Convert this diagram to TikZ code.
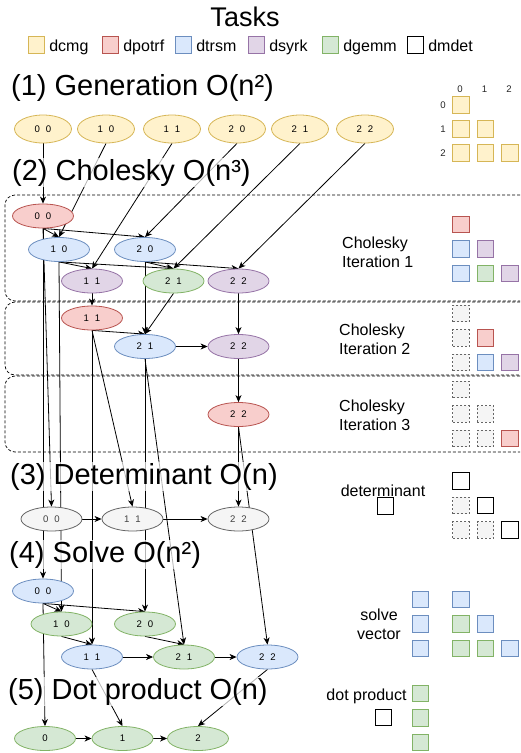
\documentclass[tikz,border=0pt]{standalone}
\usepackage{fontspec}
\setmainfont{Liberation Sans}
\usetikzlibrary{scopes,shapes.geometric,arrows.meta,backgrounds}

\definecolor{ylwF}{HTML}{FFF2CC}\definecolor{ylwD}{HTML}{D6B656}
\definecolor{redF}{HTML}{F8CECC}\definecolor{redD}{HTML}{B85450}
\definecolor{bluF}{HTML}{DAE8FC}\definecolor{bluD}{HTML}{6C8EBF}
\definecolor{purF}{HTML}{E1D5E7}\definecolor{purD}{HTML}{9673A6}
\definecolor{grnF}{HTML}{D5E8D4}\definecolor{grnD}{HTML}{82B366}
\definecolor{gryF}{HTML}{F5F5F5}\definecolor{gryD}{HTML}{666666}

\def\tijx#1#2{#1\hspace{6pt}#2}
\newcommand{\tij}[1]{\expandafter\tijx#1}

\begin{document}
\begin{tikzpicture}[x=1pt,y=-1pt,
    >={Stealth[length=7pt,width=6pt,inset=2pt]},
    task/.style={ellipse,draw,line width=0.8pt,minimum width=61pt,minimum height=24pt,inner sep=0pt,font=\fontsize{9.6}{9.6}\selectfont},
    wide/.style={minimum width=57pt,minimum height=28pt},
    tile/.style={rectangle,draw,line width=0.8pt,minimum size=16.5pt,inner sep=0pt},
    hole/.style={tile,dash pattern=on 2pt off 2pt,fill=gryF,draw=gryD},
    dcmg/.style={fill=ylwF,draw=ylwD},
    dpotrf/.style={fill=redF,draw=redD},
    dtrsm/.style={fill=bluF,draw=bluD},
    dsyrk/.style={fill=purF,draw=purD},
    dgemm/.style={fill=grnF,draw=grnD},
    dmdet/.style={fill=white,draw=black},
    faded/.style={fill=gryF,draw=gryD,text=black!75},
    dep/.style={->,line width=0.8pt},
    stage/.style={anchor=base west,font=\fontsize{29}{29}\selectfont,fill=white,fill opacity=0.7,text opacity=1,inner sep=1pt},
    note/.style={font=\fontsize{16}{19}\selectfont,inner sep=0pt},
    index/.style={font=\fontsize{9.6}{9.6}\selectfont,text=black!85},
    region/.style={draw,dash pattern=on 3pt off 2pt,rounded corners=10pt,line width=0.7pt},
]
\useasboundingbox (0,0) rectangle (520,753);

\node[font=\fontsize{27}{27}\selectfont,anchor=base] (tasks) at (245,26) {Tasks};
\foreach \s/\x in {dcmg/36.5,dpotrf/110.5,dtrsm/183.5,dsyrk/256.5,dgemm/330.5,dmdet/415.5} {
    \node[tile,\s] (key\s) at (\x,45) {};
    \node[note,anchor=base west] at ([xshift=4pt,yshift=-6pt]key\s.east) {\s};
}

\node[stage] (t1) at (10,95) {(1) Generation O(n²)};
\node[stage] (t2) at (11,180) {(2) Cholesky O(n³)};
\node[stage] (t3) at (9,484) {(3) Determinant O(n)};
\node[stage] (t4) at (8,562) {(4) Solve O(n²)};
\node[stage] (t5) at (7,699) {(5) Dot product O(n)};

\foreach \i/\j/\x in {0/0/43,1/0/106,1/1/172,2/0/237,2/1/300,2/2/365}
    \node[task,wide,dcmg] (g\i\j) at (\x,129) {\i\hspace{6pt}\j};

\node[task,dpotrf] (a00) at (43,216) {\tij{00}};
\node[task,dtrsm] (a10) at (59,249.5) {\tij{10}};
\node[task,dtrsm] (a20) at (145,249.5) {\tij{20}};
\node[task,dsyrk] (a11) at (92,281) {\tij{11}};
\node[task,dgemm] (a21) at (173.5,281) {\tij{21}};
\node[task,dsyrk] (a22) at (238.5,281) {\tij{22}};
\node[task,dpotrf] (b11) at (92,318) {\tij{11}};
\node[task,dtrsm] (b21) at (145,346.5) {\tij{21}};
\node[task,dsyrk] (b22) at (238.5,346.5) {\tij{22}};
\node[task,dpotrf] (c22) at (238.5,414.5) {\tij{22}};

\node[task,faded] (m00) at (51.5,519) {\tij{00}};
\node[task,faded] (m11) at (132.5,519) {\tij{11}};
\node[task,faded] (m22) at (238.5,519) {\tij{22}};

\node[task,dtrsm] (s00) at (43,591) {\tij{00}};
\node[task,dgemm] (s10) at (61.5,624) {\tij{10}};
\node[task,dgemm] (s20) at (145,624) {\tij{20}};
\node[task,dtrsm] (s11) at (92,657) {\tij{11}};
\node[task,dgemm] (s21) at (184,657) {\tij{21}};
\node[task,dtrsm] (s22) at (267.5,657) {\tij{22}};

\node[task,dgemm] (d0) at (45,738.5) {0};
\node[task,dgemm] (d1) at (122.5,738.5) {1};
\node[task,dgemm] (d2) at (198,738.5) {2};

\begin{scope}[on background layer]
    \draw[region] (520,195) -- (5,195) -- (5,301) -- (520,301);
    \draw[region] (520,302) -- (5,302) -- (5,375) -- (520,375);
    \draw[region] (520,376) -- (5,376) -- (5,452) -- (520,452);
    \foreach \a/\b in {g00/a00,g10/a10,g11/a11,g20/a20,g21/a21,g22/a22,
            a00/a10,a00/a20,a10/a11,a10/a21,a20/a21,a20/a22,
            a11/b11,b11/b21,a21/b21,a20/b21,a22/b22,b22/c22,
            a00/m00,b11/m11,c22/m22,
            a00/s00,a10/s10,a20/s20,b11/s11,b21/s21,c22/s22,
            s00/s10,s00/s20,s10/s11,s20/s21,s00/d0,s11/d1,s22/d2}
        \draw[dep] (\a.south) -- (\b.north);
    \foreach \a/\b in {b21/b22,m00/m11,m11/m22,s11/s21,s21/s22,d0/d1,d1/d2}
        \draw[dep] (\a.east) -- (\b.west);
\end{scope}

\foreach \k in {0,1,2} {
    \node[index] at (460+24.5*\k,89) {\k};
    \node[index] at (443,105+24*\k) {\k};
}
\foreach \c/\r in {0/0,0/1,1/1,0/2,1/2,2/2}
    \node[tile,dcmg] at (461+24.5*\c,105+24*\r) {};

\node[note,align=left,anchor=west] (it1) at (342,252.7) {Cholesky\\Iteration 1};
\foreach \c/\r/\s in {0/0/dpotrf,0/1/dtrsm,1/1/dsyrk,0/2/dtrsm,1/2/dgemm,2/2/dsyrk}
    \node[tile,\s] at (461+24.5*\c,224.5+24.5*\r) {};

\node[note,align=left,anchor=west] (it2) at (339,339.7) {Cholesky\\Iteration 2};
\foreach \c/\r/\s in {0/0/hole,0/1/hole,1/1/dpotrf,0/2/hole,1/2/dtrsm,2/2/dsyrk}
    \node[tile,\s] at (461+24.5*\c,313.5+24.5*\r) {};

\node[note,align=left,anchor=west] (it3) at (339,415.7) {Cholesky\\Iteration 3};
\foreach \c/\r/\s in {0/0/hole,0/1/hole,1/1/hole,0/2/hole,1/2/hole,2/2/dpotrf}
    \node[tile,\s] at (461+24.5*\c,389.5+24.5*\r) {};

\node[note,anchor=base] (det) at (383,496) {determinant};
\node[tile,dmdet] (detval) at (385.5,506) {};
\foreach \c/\r/\s in {0/0/dmdet,0/1/hole,1/1/dmdet,0/2/hole,1/2/hole,2/2/dmdet}
    \node[tile,\s] at (461+24.5*\c,481+24.5*\r) {};

\node[note,align=center] (vec) at (379,624.7) {solve\\vector};
\foreach \r in {0,1,2}
    \node[tile,dtrsm] at (420.5,599.5+24.5*\r) {};
\foreach \c/\r/\s in {0/0/dtrsm,0/1/dgemm,1/1/dtrsm,0/2/dgemm,1/2/dgemm,2/2/dtrsm}
    \node[tile,\s] at (461+24.5*\c,599.5+24.5*\r) {};

\node[note,anchor=base] (dot) at (366.5,700) {dot product};
\node[tile,dmdet] (dotval) at (383.5,717.5) {};
\foreach \r in {0,1,2}
    \node[tile,dgemm] at (420.5,693.5+24.5*\r) {};
\end{tikzpicture}
\end{document}
